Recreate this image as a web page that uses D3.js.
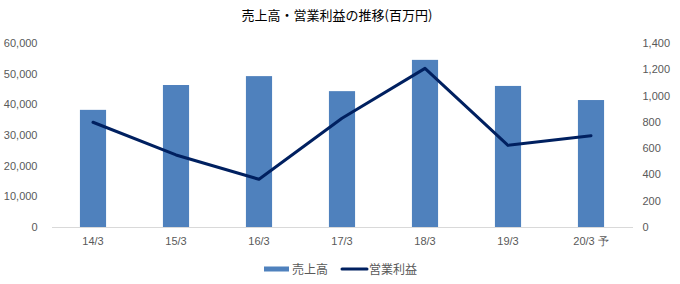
<!DOCTYPE html>
<html>
<head>
<meta charset="utf-8">
<script src="https://cdn.jsdelivr.net/npm/d3@7"></script>
<style>
  body { margin: 0; background: #fff; }
  svg { display: block; font-family: "Noto Sans CJK JP", "Noto Sans", sans-serif; }
</style>
</head>
<body>
<div id="chart"></div>
<script>
// 売上高・営業利益の推移 — bars on left axis, line on right axis
const categories = ["14/3", "15/3", "16/3", "17/3", "18/3", "19/3", "20/3 予"];
const sales = [38200, 46300, 49200, 44300, 54500, 46000, 41400];   // 売上高
const profit = [797, 548, 363, 827, 1207, 621, 695];                 // 営業利益
const leftTicks = [0, 10000, 20000, 30000, 40000, 50000, 60000];
const rightTicks = [0, 200, 400, 600, 800, 1000, 1200, 1400];

const width = 680, height = 284;
const margin = { top: 43, right: 47.5, bottom: 57, left: 51.5 };

const svg = d3.select("#chart").append("svg")
  .attr("width", width)
  .attr("height", height);

const x = d3.scaleBand()
  .domain(categories)
  .range([margin.left, width - margin.right])
  .padding(0);

const yL = d3.scaleLinear().domain([0, 60000]).range([height - margin.bottom, margin.top]);
const yR = d3.scaleLinear().domain([0, 1400]).range([height - margin.bottom, margin.top]);

const barW = x.bandwidth() * 0.315;
const textColor = "#595959";

// title
svg.append("text")
  .attr("x", 337)
  .attr("y", 20)
  .attr("text-anchor", "middle")
  .attr("font-size", 13)
  .attr("fill", "#000")
  .text("売上高・営業利益の推移(百万円)");

// left axis labels
const fmt = d3.format(",");
svg.append("g")
  .attr("transform", `translate(${margin.left - 14},0)`)
  .call(d3.axisLeft(yL).tickValues(leftTicks).tickFormat(fmt).tickSize(0).tickPadding(0))
  .call((g) => g.select(".domain").remove())
  .call((g) => g.selectAll("text").attr("fill", textColor).attr("font-size", 11).attr("font-family", null));

// right axis labels
svg.append("g")
  .attr("transform", `translate(${width - margin.right + 10},0)`)
  .call(d3.axisRight(yR).tickValues(rightTicks).tickFormat(fmt).tickSize(0).tickPadding(0))
  .call((g) => g.select(".domain").remove())
  .call((g) => g.selectAll("text").attr("fill", textColor).attr("font-size", 11).attr("font-family", null));

// bars
svg.append("g")
  .selectAll("rect")
  .data(sales)
  .join("rect")
  .attr("x", (d, i) => x(categories[i]) + x.bandwidth() / 2 - barW / 2)
  .attr("width", barW)
  .attr("y", (d) => yL(d))
  .attr("height", (d) => yL(0) - yL(d))
  .attr("fill", "#4f81bd");

// baseline + category labels
svg.append("g")
  .attr("transform", `translate(0,${height - margin.bottom})`)
  .call(d3.axisBottom(x).tickSize(0).tickPadding(10))
  .call((g) => g.select(".domain").attr("stroke", "#d9d9d9").attr("stroke-width", 1))
  .call((g) => g.selectAll("text").attr("fill", textColor).attr("font-size", 11).attr("font-family", null));

// profit line
const line = d3.line()
  .x((d, i) => x(categories[i]) + x.bandwidth() / 2)
  .y((d) => yR(d));

svg.append("path")
  .datum(profit)
  .attr("fill", "none")
  .attr("stroke", "#002060")
  .attr("stroke-width", 3)
  .attr("stroke-linejoin", "round")
  .attr("stroke-linecap", "round")
  .attr("d", line);

// legend
const legend = svg.append("g").attr("font-size", 12).attr("fill", textColor);
legend.append("rect")
  .attr("x", 264).attr("y", 266.5).attr("width", 25).attr("height", 5)
  .attr("fill", "#4f81bd");
legend.append("text").attr("x", 292).attr("y", 273.5).text("売上高");
legend.append("line")
  .attr("x1", 342).attr("x2", 367).attr("y1", 269).attr("y2", 269)
  .attr("stroke", "#002060").attr("stroke-width", 3).attr("stroke-linecap", "round");
legend.append("text").attr("x", 369).attr("y", 273.5).text("営業利益");
</script>
</body>
</html>
